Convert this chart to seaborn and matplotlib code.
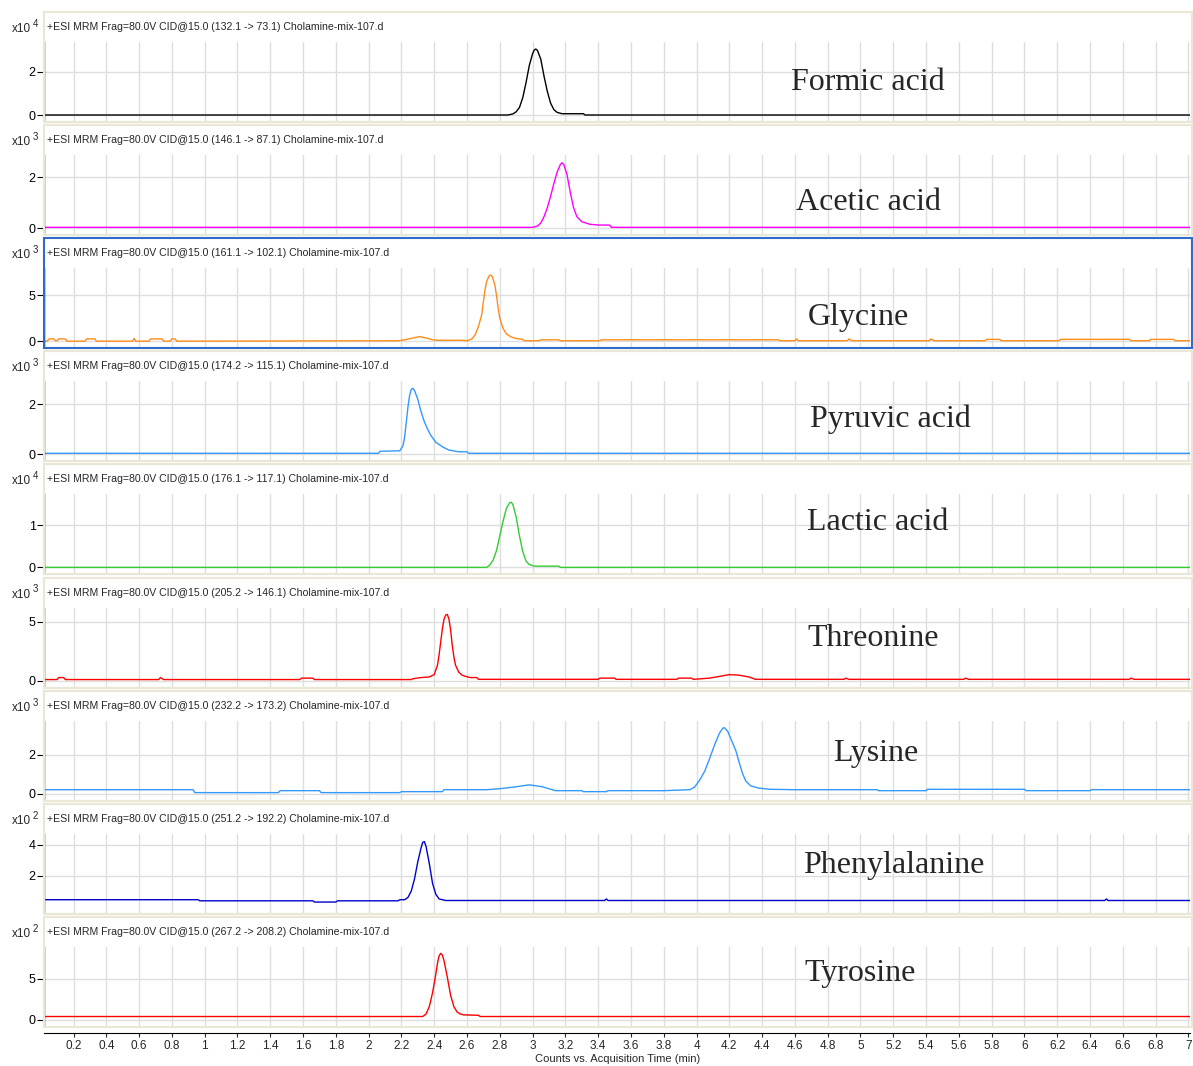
import numpy as np
import pandas as pd
import matplotlib
matplotlib.use("Agg")
import matplotlib.pyplot as plt
from matplotlib.patches import Rectangle
import seaborn as sns

# compounds, one panel each
compostos = ["Formic acid", "Acetic acid", "Glycine", "Pyruvic acid", "Lactic acid",
             "Threonine", "Lysine", "Phenylalanine", "Tyrosine"]
transicoes = ["(132.1 -> 73.1)", "(146.1 -> 87.1)", "(161.1 -> 102.1)", "(174.2 -> 115.1)",
              "(176.1 -> 117.1)", "(205.2 -> 146.1)", "(232.2 -> 173.2)", "(251.2 -> 192.2)",
              "(267.2 -> 208.2)"]
expoentes = [4, 3, 3, 3, 4, 3, 3, 2, 2]
yticks_painel = [[0, 2], [0, 2], [0, 5], [0, 2], [0, 1], [0, 5], [0, 2], [2, 4], [0, 5]]
cores = ["black", "#ff00ff", "#ff8c1a", "#3399ff", "#33cc33", "#ff0000", "#3399ff", "#0000cc", "#ff0000"]

# traces (time in min, counts in panel units)
formic_t = [0.02, 2.85, 2.88, 2.90, 2.92, 2.94, 2.96, 2.98, 3.00, 3.01, 3.02, 3.03, 3.05, 3.07, 3.09,
            3.11, 3.13, 3.15, 3.18, 3.31, 3.32, 7.01]
formic_y = [0.0, 0.0, 0.05, 0.15, 0.35, 0.8, 1.5, 2.3, 2.85, 3.02, 3.07, 3.0, 2.6, 1.8, 1.1,
            0.55, 0.25, 0.12, 0.06, 0.06, 0.0, 0.0]

acetic_t = [0.02, 3.00, 3.03, 3.05, 3.07, 3.09, 3.11, 3.13, 3.15, 3.17, 3.18, 3.19, 3.21, 3.23, 3.25,
            3.27, 3.30, 3.35, 3.40, 3.47, 3.48, 7.01]
acetic_y = [0.03, 0.03, 0.08, 0.2, 0.45, 0.8, 1.25, 1.75, 2.2, 2.5, 2.56, 2.5, 2.1, 1.4, 0.8,
            0.45, 0.25, 0.15, 0.12, 0.12, 0.03, 0.03]

glycine_t = [0.02, 0.04, 0.05, 0.08, 0.09, 0.10, 0.11, 0.15, 0.16, 0.27, 0.28, 0.33, 0.34, 0.56, 0.57,
             0.58, 0.66, 0.67, 0.74, 0.75, 0.79, 0.80, 0.82, 0.83, 2.18, 2.22, 2.27, 2.31, 2.35, 2.39,
             2.42, 2.57, 2.60, 2.63, 2.65, 2.67, 2.69, 2.70, 2.71, 2.72, 2.735, 2.745, 2.755, 2.77, 2.78,
             2.79, 2.80, 2.82, 2.84, 2.87, 2.90, 2.94, 2.95, 3.04, 3.05, 3.16, 3.17, 3.41, 3.42, 4.50,
             4.51, 4.60, 4.61, 4.62, 4.92, 4.93, 4.95, 5.42, 5.43, 5.45, 5.76, 5.77, 5.85, 5.86, 6.21,
             6.22, 6.64, 6.65, 6.76, 6.77, 6.91, 6.92, 7.01]
glycine_y = [0.0, 0.0, 0.25, 0.25, 0.05, 0.05, 0.25, 0.25, 0.0, 0.0, 0.25, 0.25, 0.0, 0.0, 0.3,
             0.0, 0.0, 0.25, 0.25, 0.0, 0.0, 0.25, 0.25, 0.0, 0.05, 0.15, 0.35, 0.5, 0.35, 0.15,
             0.1, 0.1, 0.05, 0.25, 0.7, 1.6, 2.9, 4.3, 5.6, 6.5, 7.1, 7.2, 7.0, 6.1, 5.0,
             3.6, 2.5, 1.4, 0.8, 0.45, 0.3, 0.2, 0.05, 0.05, 0.15, 0.15, 0.05, 0.05, 0.15, 0.15,
             0.05, 0.05, 0.25, 0.05, 0.05, 0.25, 0.05, 0.05, 0.25, 0.05, 0.05, 0.2, 0.2, 0.05, 0.05,
             0.2, 0.2, 0.05, 0.05, 0.2, 0.2, 0.05, 0.05]

pyruvic_t = [0.02, 2.06, 2.07, 2.19, 2.21, 2.22, 2.23, 2.24, 2.25, 2.26, 2.27, 2.28, 2.30, 2.32, 2.34,
             2.36, 2.38, 2.41, 2.45, 2.49, 2.55, 2.60, 2.61, 7.01]
pyruvic_y = [0.04, 0.04, 0.12, 0.14, 0.35, 0.7, 1.3, 1.9, 2.35, 2.6, 2.64, 2.55, 2.2, 1.7, 1.3,
             1.0, 0.75, 0.48, 0.3, 0.17, 0.1, 0.1, 0.04, 0.04]

lactic_t = [0.02, 2.72, 2.74, 2.76, 2.78, 2.80, 2.82, 2.84, 2.86, 2.87, 2.88, 2.90, 2.92, 2.94, 2.96,
            2.98, 3.01, 3.16, 3.17, 7.01]
lactic_y = [0.0, 0.0, 0.06, 0.18, 0.4, 0.75, 1.1, 1.4, 1.54, 1.55, 1.5, 1.2, 0.75, 0.38, 0.15,
            0.07, 0.03, 0.03, 0.0, 0.0]

threonine_t = [0.02, 0.10, 0.11, 0.14, 0.15, 0.72, 0.73, 0.75, 1.58, 1.59, 1.66, 1.67, 2.26, 2.27, 2.32,
               2.37, 2.40, 2.42, 2.43, 2.44, 2.45, 2.46, 2.47, 2.48, 2.49, 2.50, 2.51, 2.52, 2.53, 2.55,
               2.57, 2.59, 2.62, 2.66, 2.67, 3.40, 3.41, 3.50, 3.51, 3.88, 3.89, 3.97, 3.98, 4.08, 4.14,
               4.20, 4.26, 4.32, 4.36, 4.90, 4.91, 4.93, 5.63, 5.64, 5.66, 6.64, 6.65, 6.67, 7.01]
threonine_y = [0.08, 0.08, 0.25, 0.25, 0.08, 0.08, 0.25, 0.08, 0.08, 0.2, 0.2, 0.08, 0.08, 0.15, 0.25,
               0.3, 0.5, 1.3, 2.2, 3.3, 4.4, 5.2, 5.55, 5.6, 5.2, 4.3, 3.0, 2.0, 1.3, 0.7,
               0.45, 0.35, 0.25, 0.25, 0.1, 0.1, 0.2, 0.2, 0.1, 0.1, 0.2, 0.2, 0.1, 0.2, 0.35,
               0.5, 0.45, 0.3, 0.1, 0.1, 0.2, 0.1, 0.1, 0.2, 0.1, 0.1, 0.2, 0.1, 0.1]

lysine_t = [0.02, 0.93, 0.94, 1.45, 1.46, 1.70, 1.71, 2.19, 2.20, 2.45, 2.46, 2.72, 2.80, 2.90, 2.98,
            3.06, 3.14, 3.30, 3.31, 3.45, 3.46, 3.80, 3.96, 3.99, 4.02, 4.05, 4.08, 4.11, 4.14, 4.16,
            4.17, 4.19, 4.21, 4.24, 4.26, 4.28, 4.30, 4.33, 4.38, 4.45, 4.60, 5.10, 5.11, 5.40, 5.41,
            6.00, 6.01, 6.40, 6.41, 7.01]
lysine_y = [0.2, 0.2, 0.05, 0.05, 0.15, 0.15, 0.05, 0.05, 0.1, 0.1, 0.2, 0.2, 0.25, 0.35, 0.45,
            0.35, 0.15, 0.15, 0.1, 0.1, 0.15, 0.15, 0.2, 0.35, 0.7, 1.15, 1.8, 2.5, 3.1, 3.35,
            3.38, 3.2, 2.8, 2.2, 1.6, 1.05, 0.65, 0.4, 0.28, 0.22, 0.2, 0.2, 0.15, 0.15, 0.22,
            0.22, 0.15, 0.15, 0.2, 0.2]

phenyl_t = [0.02, 0.96, 0.97, 1.66, 1.67, 1.80, 1.81, 2.18, 2.19, 2.22, 2.24, 2.26, 2.28, 2.30, 2.32,
            2.33, 2.34, 2.35, 2.37, 2.39, 2.41, 2.43, 2.47, 3.44, 3.45, 3.46, 6.49, 6.50, 6.51, 7.01]
phenyl_y = [0.45, 0.45, 0.38, 0.38, 0.3, 0.3, 0.38, 0.38, 0.45, 0.45, 0.6, 1.0, 1.8, 2.9, 3.8,
            4.15, 4.2, 3.9, 2.8, 1.5, 0.8, 0.5, 0.4, 0.4, 0.5, 0.4, 0.4, 0.5, 0.4, 0.4]

tyrosine_t = [0.02, 2.33, 2.35, 2.37, 2.39, 2.41, 2.42, 2.43, 2.44, 2.45, 2.46, 2.48, 2.50, 2.52, 2.54,
              2.56, 2.58, 2.67, 2.68, 7.01]
tyrosine_y = [0.4, 0.4, 0.7, 1.6, 3.3, 5.6, 6.9, 7.8, 8.1, 7.9, 7.2, 5.2, 3.0, 1.6, 0.95,
              0.7, 0.6, 0.55, 0.4, 0.4]

tempos = [formic_t, acetic_t, glycine_t, pyruvic_t, lactic_t, threonine_t, lysine_t, phenyl_t, tyrosine_t]
sinais = [formic_y, acetic_y, glycine_y, pyruvic_y, lactic_y, threonine_y, lysine_y, phenyl_y, tyrosine_y]

# layout (pixels of the 1193x1066 picture)
W, H = 1193, 1066
px_por_unidade = [21.5, 25.5, 9.2, 25.0, 42.0, 11.8, 19.5, 15.5, 8.2]
label_pos = [(868, 82), (869, 203), (858, 317), (890, 419), (878, 522),
             (873, 638), (876, 754), (894, 866), (860, 973)]

sns.set_style("white")
plt.rcParams["font.family"] = ["Liberation Sans", "DejaVu Sans"]

fig = plt.figure(figsize=(W / 100, H / 100), dpi=100)

def fx(px):
    return px / W

def fy(py):
    return 1 - py / H

x_left, x_right = 44, 1190
for i in range(9):
    zero = 115 + 113.1 * i
    header = 27 + 113.1 * i

    # panel frame
    frame_top = 12 + 113.1 * i
    if i == 2:
        cor_frame, lw_frame = "#2f6cc9", 1.5
    else:
        cor_frame, lw_frame = "#ebe7d6", 1.6
    fig.patches.append(Rectangle((fx(44), fy(frame_top + 110)), fx(1192) - fx(44),
                                 110 / H, transform=fig.transFigure, fill=False,
                                 edgecolor=cor_frame, lw=lw_frame, zorder=0))

    ax = fig.add_axes([fx(x_left), fy(zero + 6), fx(x_right) - fx(x_left), 79 / H])
    ppu = px_por_unidade[i]
    df = pd.DataFrame({"t": tempos[i], "y": sinais[i]})
    sns.lineplot(data=df, x="t", y="y", ax=ax, color=cores[i], lw=1.0,
                 estimator=None, sort=False)
    ax.set_xlim(0.02, 7.01)
    ax.set_ylim(-6 / ppu, 73 / ppu)
    ax.set_xticks(np.round(np.arange(0.2, 7.01, 0.2), 1))
    ax.set_yticks(yticks_painel[i])
    ax.grid(True, color="#dedede", lw=1.0)
    ax.set_axisbelow(True)
    ax.set_xlabel("")
    ax.set_ylabel("")
    for s in ["top", "right", "bottom"]:
        ax.spines[s].set_visible(False)
    ax.spines["left"].set_color("black")
    ax.spines["left"].set_linewidth(1.0)
    ax.tick_params(axis="y", left=True, length=5, width=0.8, pad=1, labelsize=9, colors="black")
    ax.set_facecolor("none")

    if i < 8:
        ax.tick_params(axis="x", bottom=False, labelbottom=False)
    else:
        ax.spines["bottom"].set_visible(True)
        ax.spines["bottom"].set_color("black")
        ax.spines["bottom"].set_position(("outward", 5))
        ax.tick_params(axis="x", bottom=True, length=3, width=0.8, labelsize=8.5, pad=2)
        ax.set_xticklabels([f"{v:g}" for v in ax.get_xticks()])

    # header and multiplier
    fig.text(fx(47), fy(header), "+ESI MRM Frag=80.0V CID@15.0 " + transicoes[i] + " Cholamine-mix-107.d",
             fontsize=7.6, va="center", ha="left")
    fig.text(fx(12), fy(header + 2), "x10", fontsize=8.5, va="center", ha="left")
    fig.text(fx(33), fy(header - 3), str(expoentes[i]), fontsize=7, va="center", ha="left")

    # compound name
    lx, ly = label_pos[i]
    fig.text(fx(lx), fy(ly), compostos[i], fontsize=23, family="Liberation Serif",
             ha="center", va="center")

# x axis title, placed by hand so it stays inside the picture
fig.text(fx(618), fy(1059), "Counts vs. Acquisition Time (min)", fontsize=8,
         ha="center", va="center")

fig.savefig("out.png", dpi=100)
